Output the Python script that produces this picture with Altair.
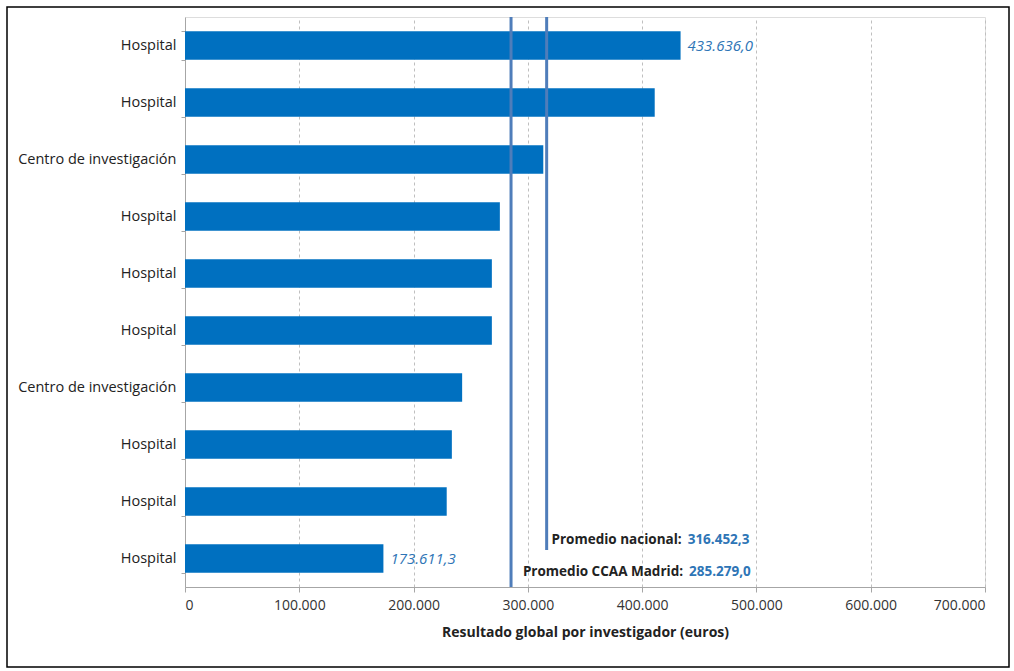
import altair as alt
import pandas as pd

labels = ["Hospital", "Hospital", "Centro de investigación", "Hospital", "Hospital",
          "Hospital", "Centro de investigación", "Hospital", "Hospital", "Hospital"]
values = [433636.0, 411000, 313500, 275500, 268500, 268500, 242500, 233500, 229000, 173611.3]
rows = list(range(len(labels)))
shown_labels = {0: "433.636,0", 9: "173.611,3"}
avg_names = ["Promedio nacional:", "Promedio CCAA Madrid:"]
avg_values = [316452.3, 285279.0]
avg_texts = ["316.452,3", "285.279,0"]

df = pd.DataFrame({"row": rows, "label": labels, "value": values})
df_lbl = pd.DataFrame({"row": [r for r in shown_labels], "value": [values[r] for r in shown_labels],
                       "txt": [shown_labels[r] for r in shown_labels]})
df_avg = pd.DataFrame({"name": avg_names, "value": avg_values, "txt": avg_texts, "row": [9, 9]})

label_expr = "[" + ",".join("'" + l + "'" for l in labels) + "][datum.value]"
FONT = "Open Sans"

y_enc = alt.Y("row:O", sort="ascending",
              scale=alt.Scale(paddingInner=0.5, paddingOuter=0.25),
              axis=alt.Axis(title=None, labelExpr=label_expr, labelFont=FONT, labelFontSize=14.5,
                            labelColor="#222222", labelPadding=5, tickBand="extent", tickSize=4,
                            tickColor="#A6A6A6", domainColor="#A6A6A6", grid=False))
x_scale = alt.Scale(domain=[0, 700000], nice=False)

bars = alt.Chart(df).mark_bar(color="#0070C0").encode(
    x=alt.X("value:Q", scale=x_scale,
            axis=alt.Axis(title="Resultado global por investigador (euros)",
                          labelExpr="replace(format(datum.value, ',.0f'), ',', '.')",
                          values=[0, 100000, 200000, 300000, 400000, 500000, 600000, 700000],
                          labelFont=FONT, labelFontSize=14, labelColor="#333333", labelPadding=6,
                          titleFont=FONT, titleFontSize=14, titleFontWeight="bold",
                          titleColor="#222222", titlePadding=13,
                          grid=True, gridDash=[3, 3], gridColor="#BFBFBF",
                          domainColor="#A6A6A6", tickColor="#A6A6A6", tickSize=5)),
    y=y_enc,
)

val_text = alt.Chart(df_lbl).mark_text(align="left", dx=7, fontStyle="italic", fontSize=15,
                                       font=FONT, color="#2E75B6").encode(
    x=alt.X("value:Q", scale=x_scale), y=alt.Y("row:O"), text="txt:N")

rule_nac = alt.Chart(df_avg.iloc[[0]]).mark_rule(color="#4F7DBA", strokeWidth=3).encode(
    x=alt.X("value:Q", scale=x_scale), y=alt.value(0), y2=alt.value(533))
rule_mad = alt.Chart(df_avg.iloc[[1]]).mark_rule(color="#4F7DBA", strokeWidth=3).encode(
    x=alt.X("value:Q", scale=x_scale), y=alt.value(0), y2=alt.value(570))

def ann(i, dx, dy, field, color, align):
    return alt.Chart(df_avg.iloc[[i]]).mark_text(
        align=align, dx=dx, dy=dy, fontWeight="bold", fontSize=13.5, font=FONT, color=color
    ).encode(x=alt.X("value:Q", scale=x_scale), y=alt.Y("row:O"), text=f"{field}:N")

nac_name = ann(0, 135, -19, "name", "#222222", "right")
nac_val = ann(0, 141, -19, "txt", "#2E75B6", "left")
mad_name = ann(1, 172, 13, "name", "#222222", "right")
mad_val = ann(1, 178, 13, "txt", "#2E75B6", "left")

frame = alt.Chart(pd.DataFrame({"a": [1]})).mark_rect(fill=None, stroke="#000000", strokeWidth=1.5).encode(
    x=alt.value(-178), x2=alt.value(824), y=alt.value(-10), y2=alt.value(650))

chart = alt.layer(bars, val_text, rule_mad, rule_nac, nac_name, nac_val, mad_name, mad_val, frame).properties(
    width=800, height=570,
    autosize=alt.AutoSizeParams(type="none"),
    padding={"left": 185, "top": 17, "right": 29, "bottom": 84},
).configure_view(stroke=None).configure(background="white")

chart.save("out.html", embed_options={"renderer": "svg", "actions": False})
